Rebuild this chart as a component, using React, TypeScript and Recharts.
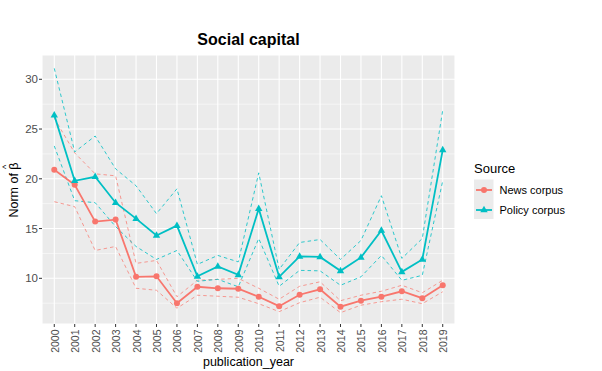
import React from 'react';
import { LineChart, Line, XAxis, YAxis, CartesianGrid, Label } from 'recharts';

const years = [2000, 2001, 2002, 2003, 2004, 2005, 2006, 2007, 2008, 2009, 2010, 2011, 2012, 2013, 2014, 2015, 2016, 2017, 2018, 2019];
const newsMain = [20.9, 19.4, 15.7, 15.9, 10.15, 10.2, 7.5, 9.15, 9.0, 8.95, 8.15, 7.2, 8.35, 8.9, 7.15, 7.75, 8.15, 8.7, 8.0, 9.3];
const newsUpper = [26.1, 22.6, 20.5, 20.3, 11.5, 11.8, 8.15, 9.8, 9.9, 10.0, 9.0, 7.9, 9.2, 9.65, 7.75, 8.3, 8.7, 9.3, 8.55, 9.8];
const newsLower = [17.7, 17.2, 12.8, 13.2, 9.0, 8.8, 7.0, 8.3, 8.2, 8.1, 7.45, 6.65, 7.55, 8.1, 6.55, 7.3, 7.65, 7.9, 7.45, 8.65];
const policyMain = [26.4, 19.8, 20.2, 17.6, 16.0, 14.3, 15.3, 10.2, 11.2, 10.35, 17.0, 10.15, 12.2, 12.15, 10.75, 12.1, 14.8, 10.65, 11.9, 22.9];
const policyUpper = [31.1, 22.7, 24.3, 21.0, 19.3, 16.5, 19.0, 11.4, 12.3, 11.65, 20.6, 10.9, 13.6, 13.9, 11.9, 13.8, 18.3, 12.0, 14.0, 26.9];
const policyLower = [23.3, 17.8, 17.6, 15.2, 13.2, 11.9, 12.8, 9.7, 9.9, 9.15, 14.0, 9.2, 10.8, 10.75, 9.3, 10.15, 12.3, 9.8, 10.3, 19.8];
const yTicks = [10, 15, 20, 25, 30];
const yMinor = [7.5, 12.5, 17.5, 22.5, 27.5, 32.5];
const seriesNames = ['News corpus', 'Policy corpus'];

const NEWS = '#F8766D';
const POLICY = '#00BFC4';
const FONT = '"Liberation Sans", Arial, sans-serif';

const data = years.map((year, i) => ({
  year,
  newsMain: newsMain[i],
  newsUpper: newsUpper[i],
  newsLower: newsLower[i],
  policyMain: policyMain[i],
  policyUpper: policyUpper[i],
  policyLower: policyLower[i],
}));

const XTick = (props: any) => {
  const { x, payload } = props;
  return (
    <text
      transform={`translate(${x + 0.5},329.5) rotate(-90)`}
      textAnchor="end"
      dominantBaseline="central"
      fontSize={10.5}
      fontFamily={FONT}
      fill="#4D4D4D"
    >
      {payload.value}
    </text>
  );
};

const YTick = (props: any) => {
  const { y, payload } = props;
  return (
    <text x={38} y={y} textAnchor="end" dominantBaseline="central" fontSize={11.5} fontFamily={FONT} fill="#4D4D4D">
      {payload.value}
    </text>
  );
};

const Triangle = (props: any) => {
  const { cx, cy, index } = props;
  if (cx == null || cy == null) return <g key={`t${index}`} />;
  return (
    <path
      key={`t${index}`}
      d={`M${cx},${cy - 4.2} L${cx - 3.7},${cy + 2.3} L${cx + 3.7},${cy + 2.3} Z`}
      fill={POLICY}
      stroke="none"
    />
  );
};

const LegendBox = () => (
  <svg width={130} height={70} style={{ position: 'absolute', left: 470, top: 155, display: 'block' }}>
    <text x={4} y={17.5} fontSize={13} fontFamily={FONT} fill="#000">Source</text>
    <rect x={4} y={24.5} width={19.5} height={39.5} fill="#EBEBEB" />
    <line x1={6} x2={22} y1={35} y2={35} stroke={NEWS} strokeWidth={1.8} />
    <circle cx={14} cy={35} r={3} fill={NEWS} />
    <line x1={6} x2={22} y1={55} y2={55} stroke={POLICY} strokeWidth={1.8} />
    <path d={`M14,${55 - 4.2} L${14 - 3.7},${55 + 2.3} L${14 + 3.7},${55 + 2.3} Z`} fill={POLICY} />
    <text x={29.5} y={35} dominantBaseline="central" fontSize={11} fontFamily={FONT} fill="#000">{seriesNames[0]}</text>
    <text x={29.5} y={55} dominantBaseline="central" fontSize={11} fontFamily={FONT} fill="#000">{seriesNames[1]}</text>
  </svg>
);

const dashed = { strokeWidth: 0.9, strokeDasharray: '3.5 3' };

export default function App() {
  return (
    <div style={{ position: 'absolute', left: 0, top: 0, width: 602, height: 371, background: '#fff' }}>
      <LineChart width={602} height={371} data={data} margin={{ top: 55, right: 147, bottom: 0, left: 0 }}>
        <CartesianGrid fill="#EBEBEB" stroke="#FFFFFF" strokeWidth={1.1} />
        <CartesianGrid vertical={false} horizontalValues={yMinor} stroke="#FFFFFF" strokeWidth={0.55} fill="none" />
        <XAxis
          dataKey="year"
          type="number"
          domain={[1999.4, 2019.6]}
          ticks={years}
          allowDataOverflow
          interval={0}
          height={47}
          axisLine={false}
          tickLine={{ stroke: '#333333', strokeWidth: 1 }}
          tickSize={3}
          tick={<XTick />}
        >
          <Label
            content={() => (
              <text x={248.5} y={366} textAnchor="middle" fontSize={12.5} fontFamily={FONT} fill="#000">
                publication_year
              </text>
            )}
          />
        </XAxis>
        <YAxis
          type="number"
          domain={[5.41, 32.44]}
          ticks={yTicks}
          allowDataOverflow
          width={42}
          axisLine={false}
          tickLine={{ stroke: '#333333', strokeWidth: 1 }}
          tickSize={3}
          tick={<YTick />}
        >
          <Label
            content={() => (
              <g>
                <text
                  x={18}
                  y={190}
                  transform="rotate(-90, 18, 190)"
                  textAnchor="middle"
                  fontSize={12.5}
                  fontFamily={FONT}
                  fill="#000"
                >
                  <tspan>Norm of β</tspan>
                  <tspan dx={-6.5} dy={-9} fontSize={9}>^</tspan>
                </text>
                <text x={248.5} y={45} textAnchor="middle" fontSize={16} fontWeight="bold" fontFamily={FONT} fill="#000">
                  Social capital
                </text>
              </g>
            )}
          />
        </YAxis>
        <Line dataKey="newsUpper" stroke={NEWS} strokeOpacity={0.8} {...dashed} dot={false} activeDot={false} legendType="none" isAnimationActive={false} />
        <Line dataKey="newsLower" stroke={NEWS} strokeOpacity={0.8} {...dashed} dot={false} activeDot={false} legendType="none" isAnimationActive={false} />
        <Line dataKey="policyUpper" stroke={POLICY} strokeOpacity={0.9} {...dashed} dot={false} activeDot={false} legendType="none" isAnimationActive={false} />
        <Line dataKey="policyLower" stroke={POLICY} strokeOpacity={0.9} {...dashed} dot={false} activeDot={false} legendType="none" isAnimationActive={false} />
        <Line dataKey="newsMain" name={seriesNames[0]} stroke={NEWS} strokeWidth={1.8} dot={{ r: 3, fill: NEWS, stroke: 'none' }} activeDot={false} isAnimationActive={false} />
        <Line dataKey="policyMain" name={seriesNames[1]} stroke={POLICY} strokeWidth={1.8} dot={<Triangle />} activeDot={false} isAnimationActive={false} />
      </LineChart>
      <LegendBox />
    </div>
  );
}
